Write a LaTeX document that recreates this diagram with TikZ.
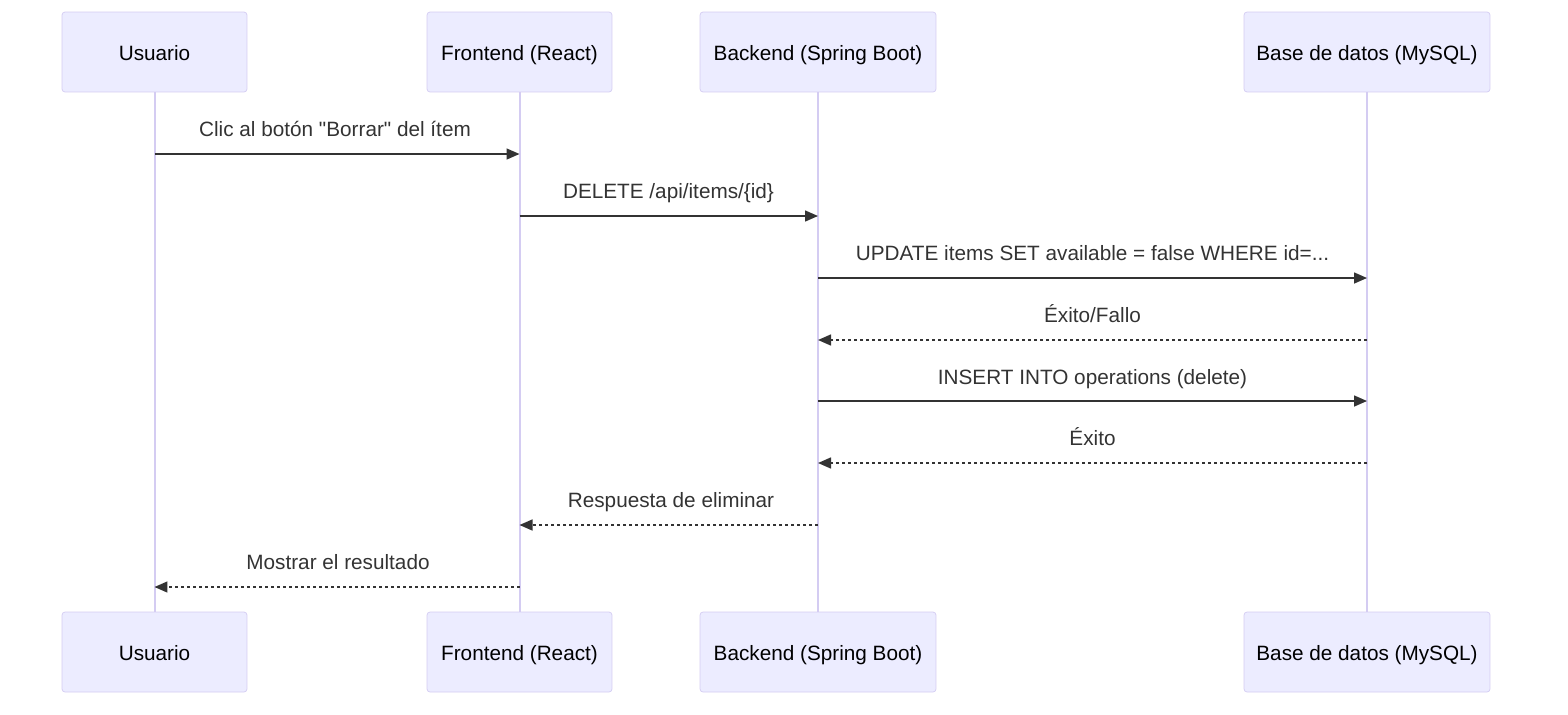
\documentclass[tikz,border=0pt]{standalone}
\usepackage{fontspec}
\setmainfont{Liberation Sans}
\usetikzlibrary{arrows.meta}
\definecolor{actfill}{HTML}{ECECFF}
\definecolor{actline}{HTML}{D4CCF2}
\definecolor{msgcol}{HTML}{333333}
\begin{document}
\begin{tikzpicture}[x=0.02cm,y=-0.02cm,font=\fontsize{11.8}{14}\selectfont]
\tikzstyle{actor}=[rectangle, rounded corners=0.06cm, draw=actline, fill=actfill, minimum height=1.6cm, text=black, text height=0.75em, text depth=0.2em]
\tikzstyle{life}=[draw=actline, line width=0.04cm]
\tikzstyle{connect}=[draw=msgcol, line width=0.03cm, -{Triangle[length=0.26cm,width=0.22cm]}]
\tikzstyle{reply}=[connect, dash pattern=on 0.06cm off 0.06cm]
\tikzstyle{msg}=[text=msgcol, text height=0.75em, text depth=0.2em, yshift=-0.06cm]
\useasboundingbox (0,0) rectangle (1568,714);
% actors, top and bottom
\node[actor,minimum width=3.7cm] (usr) at (154.5,52) {\raisebox{-0.07cm}{Usuario}};
\node[actor,minimum width=3.7cm] (fe) at (519.5,52) {\raisebox{-0.07cm}{Frontend (React)}};
\node[actor,minimum width=4.72cm] (be) at (818,52) {\raisebox{-0.07cm}{Backend (Spring Boot)}};
\node[actor,minimum width=4.92cm] (db) at (1367,52) {\raisebox{-0.07cm}{Base de datos (MySQL)}};
\node[actor,minimum width=3.7cm] (usrb) at (154.5,652) {\raisebox{-0.07cm}{Usuario}};
\node[actor,minimum width=3.7cm] (feb) at (519.5,652) {\raisebox{-0.07cm}{Frontend (React)}};
\node[actor,minimum width=4.72cm] (beb) at (818,652) {\raisebox{-0.07cm}{Backend (Spring Boot)}};
\node[actor,minimum width=4.92cm] (dbb) at (1367,652) {\raisebox{-0.07cm}{Base de datos (MySQL)}};
% lifelines
\path[life] (usr.south) -- (usrb.north);
\path[life] (fe.south) -- (feb.north);
\path[life] (be.south) -- (beb.north);
\path[life] (db.south) -- (dbb.north);
% messages
\draw[connect] (usr |- 0,154) -- (fe |- 0,154);
\node[msg] (m1) at (335,129) {Clic al botón \textquotedbl Borrar\textquotedbl\ del ítem};
\draw[connect] (fe |- 0,216) -- (be |- 0,216);
\node[msg] (m2) at (668.5,191) {DELETE /api/items/\{id\}};
\draw[connect] (be |- 0,278) -- (db |- 0,278);
\node[msg] (m3) at (1092.5,253) {UPDATE items SET available = false WHERE id=...};
\draw[reply] (db |- 0,340) -- (be |- 0,340);
\node[msg] (m4) at (1092.5,315) {Éxito/Fallo};
\draw[connect] (be |- 0,401) -- (db |- 0,401);
\node[msg] (m5) at (1092.5,377) {INSERT INTO operations (delete)};
\draw[reply] (db |- 0,463) -- (be |- 0,463);
\node[msg] (m6) at (1092.5,438) {Éxito};
\draw[reply] (be |- 0,525) -- (fe |- 0,525);
\node[msg] (m7) at (671,500) {Respuesta de eliminar};
\draw[reply] (fe |- 0,587) -- (usr |- 0,587);
\node[msg] (m8) at (338,562) {Mostrar el resultado};
\end{tikzpicture}
\end{document}
